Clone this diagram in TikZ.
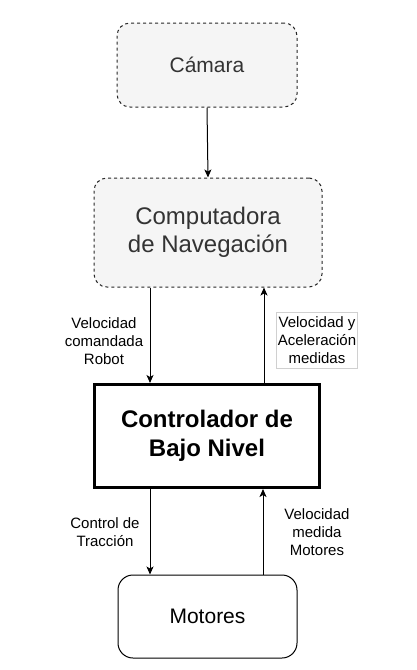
\documentclass[tikz,border=0pt]{standalone}
\usepackage{fontspec}
\setmainfont{Liberation Sans}
\usetikzlibrary{arrows.meta}
\definecolor{boxfill}{HTML}{F5F5F5}
\definecolor{boxtext}{HTML}{333333}
\definecolor{labline}{HTML}{D0D0D0}
\begin{document}
\begin{tikzpicture}[x=1pt,y=-1pt,
  dbox/.style={draw=black!85, line width=1pt, dash pattern=on 3pt off 3pt, fill=boxfill,
    rounded corners=13pt, text=boxtext, align=center, inner sep=0pt},
  sbox/.style={draw=black, line width=1pt, rounded corners=15pt, align=center, inner sep=0pt},
  tbox/.style={draw=black, line width=3pt, align=center, inner sep=0pt},
  lab/.style={align=center, inner sep=1pt, font=\fontsize{15}{18}\selectfont},
  arr/.style={draw=black, line width=1pt, -{Stealth[length=8pt,width=7pt,inset=2pt]}}
]
\useasboundingbox (0,0) rectangle (416,670);
\node[dbox, minimum width=180pt, minimum height=84pt, font=\fontsize{21}{25}\selectfont] (cam) at (207,65) {Cámara};
\node[dbox, minimum width=228pt, minimum height=109pt, font=\fontsize{24}{28.5}\selectfont] (comp) at (208,232.5) {Computadora\\de Navegación};
\node[tbox, minimum width=225pt, minimum height=103pt, font=\fontsize{24}{28.5}\selectfont\bfseries] (ctrl) at (207,436) {Controlador de\\Bajo Nivel};
\node[sbox, minimum width=179pt, minimum height=83pt, font=\fontsize{21}{25}\selectfont] (mot) at (207.5,616.5) {Motores};

\draw[arr] (cam.south) -- (comp.north);
\draw[arr] ([xshift=-58pt]comp.south) -- ([xshift=-58pt]comp.south |- ctrl.north);
\draw[arr] ([xshift=56pt]comp.south |- ctrl.north) -- ([xshift=56pt]comp.south);
\draw[arr] ([xshift=-57pt]ctrl.south) -- ([xshift=-57pt]ctrl.south |- mot.north);
\draw[arr] ([xshift=56pt]ctrl.south |- mot.north) -- ([xshift=56pt]ctrl.south);

\node[lab] (l1) at (104,341) {Velocidad\\comandada\\Robot};
\node[lab, draw=labline, line width=0.8pt, fill=white, minimum width=80pt, minimum height=56pt] (l2) at (317,340) {Velocidad y\\Aceleración\\medidas};
\node[lab] (l3) at (105,532) {Control de\\Tracción};
\node[lab] (l4) at (317,532) {Velocidad\\medida\\Motores};
\end{tikzpicture}
\end{document}
